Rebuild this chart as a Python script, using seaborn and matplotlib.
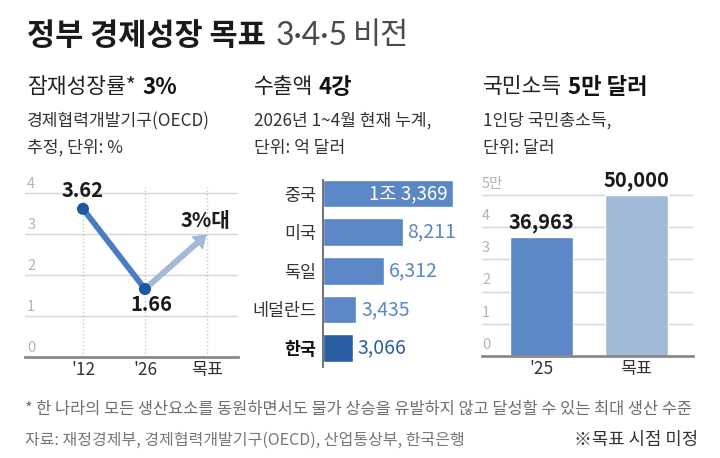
import matplotlib
matplotlib.use('Agg')
import matplotlib.pyplot as plt
import seaborn as sns
import pandas as pd

# ---- data ----
growth_labels = ["'12", "'26", "목표"]
growth_values = [3.62, 1.66]
growth_target = 3.0
growth_texts = ["3.62", "1.66", "3%대"]
growth_ticks = [0, 1, 2, 3, 4]

export_countries = ["중국", "미국", "독일", "네덜란드", "한국"]
export_values = [13369, 8211, 6312, 3435, 3066]
export_texts = ["1조 3,369", "8,211", "6,312", "3,435", "3,066"]

income_labels = ["'25", "목표"]
income_values = [36963, 50000]
income_texts = ["36,963", "50,000"]
income_ticks = [0, 10000, 20000, 30000, 40000, 50000]
income_tick_labels = ["0", "1", "2", "3", "4", "5만"]

# ---- style ----
sns.set_theme(style='white')
plt.rcParams['font.family'] = ['Noto Sans CJK KR', 'DejaVu Sans']

BLUE = '#5b87c6'
DARK_BLUE = '#2a5fa5'
LIGHT_BLUE = '#a3b9d9'
GRID = '#d6d6d6'
TICK = '#b3b3b3'
BASE = '#8a8a8a'

W, H = 720, 458
fig = plt.figure(figsize=(W / 100, H / 100), dpi=100)
fig.patch.set_facecolor('white')
renderer = fig.canvas.get_renderer()


def px_axes(left, top, right, bottom):
    return fig.add_axes([left / W, 1 - bottom / H, (right - left) / W, (bottom - top) / H])


def text_run(x, y, parts):
    """Write pieces of text one after another on a line (pixel coords)."""
    for txt, gap, kw in parts:
        t = fig.text(x / W, 1 - y / H, txt, ha='left', va='center', **kw)
        x = t.get_window_extent(renderer).x1 + gap
    return x


# ---- header ----
text_run(27, 36, [("정부 경제성장 목표", 10, dict(fontsize=22, fontweight='bold', color='#1a1a1a')),
                  ("3·4·5", 5, dict(fontsize=23, fontweight='normal', color='#4a4a4a',
                                     family=['Lato', 'Noto Sans CJK KR'])),
                  ("비전", 0, dict(fontsize=22, fontweight='light', color='#4a4a4a'))])

text_run(27, 87, [("잠재성장률*", 7, dict(fontsize=15.5, color='#222222')),
                  ("3%", 0, dict(fontsize=16, fontweight='bold', color='#111111'))])
text_run(254, 87, [("수출액", 5, dict(fontsize=15.5, color='#222222')),
                   ("4강", 0, dict(fontsize=16, fontweight='bold', color='#111111'))])
text_run(483, 87, [("국민소득", 6, dict(fontsize=15.5, color='#222222')),
                   ("5만 달러", 0, dict(fontsize=16, fontweight='bold', color='#111111'))])

sub = dict(fontsize=12.3, color='#333333', ha='left', va='center')
fig.text(27 / W, 1 - 121 / H, "경제협력개발기구(OECD)", **sub)
fig.text(27 / W, 1 - 148 / H, "추정, 단위: %", **sub)
fig.text(254 / W, 1 - 121 / H, "2026년 1~4월 현재 누계,", **sub)
fig.text(254 / W, 1 - 148 / H, "단위: 억 달러", **sub)
fig.text(483 / W, 1 - 121 / H, "1인당 국민총소득,", **sub)
fig.text(483 / W, 1 - 148 / H, "단위: 달러", **sub)

# ---- panel 1: potential growth line ----
ax1 = px_axes(25, 181, 238, 357)
ax1.set_xlim(-0.935, 2.5)
ax1.set_ylim(0, 4.3)
for v in growth_ticks[1:]:
    ax1.axhline(v, color=GRID, lw=1, zorder=0)
ax1.vlines(range(len(growth_labels)), 0, 4.15, colors='#c9c9c9', linestyles=':', lw=1, zorder=0)
for v in growth_ticks:
    ax1.text(0.01, v + 0.06, str(v), transform=ax1.get_yaxis_transform(),
             fontsize=10.5, color=TICK, fontweight='light', va='bottom', ha='left')

df_growth = pd.DataFrame({'x': [0, 1], 'y': growth_values})
sns.lineplot(data=df_growth, x='x', y='y', ax=ax1, color='#4a7cc1', lw=4.2, zorder=3)
ax1.annotate('', xy=(2, growth_target), xytext=(1, growth_values[1]),
             arrowprops=dict(arrowstyle='simple,head_length=0.8,head_width=1.05,tail_width=0.36',
                             fc=LIGHT_BLUE, ec='none', mutation_scale=12, shrinkA=0, shrinkB=0),
             zorder=2)
sns.scatterplot(data=df_growth, x='x', y='y', ax=ax1, color='#1d57a0', s=75,
                edgecolor='none', zorder=5)

ax1.text(0, 4.06, growth_texts[0], ha='center', va='center', fontsize=14.5,
         fontweight='bold', color='#1a1a1a')
ax1.text(1.1, 1.29, growth_texts[1], ha='center', va='center', fontsize=14.5,
         fontweight='bold', color='#1a1a1a')
ax1.text(1.97, 3.34, growth_texts[2], ha='center', va='center', fontsize=14.5,
         fontweight='bold', color='#1a1a1a')

ax1.set_xticks(range(len(growth_labels)))
ax1.set_xticklabels(growth_labels, fontsize=12.5, color='#333333')
ax1.set_yticks([])
ax1.tick_params(axis='x', length=0, pad=3)
ax1.set_xlabel('')
ax1.set_ylabel('')
sns.despine(ax=ax1, left=True)
ax1.spines['bottom'].set_color(BASE)
ax1.spines['bottom'].set_linewidth(2)

# ---- panel 2: exports bar ----
ax2 = px_axes(323, 180, 470, 367)
df_export = pd.DataFrame({'country': export_countries, 'value': export_values})
sns.barplot(data=df_export, y='country', x='value', hue='country',
            palette=[BLUE] * 4 + [DARK_BLUE], orient='h', width=0.72,
            ax=ax2, legend=False, saturation=1)
ax2.set_xlim(0, 15120)
ax2.set_ylim(4.49, -0.35)
for i, (v, t) in enumerate(zip(export_values, export_texts)):
    if i == 0:
        ax2.text(v - 520, i, t, ha='right', va='center', fontsize=13.5, color='white')
    else:
        ax2.text(v + 480, i, t, ha='left', va='center', fontsize=14,
                 color=DARK_BLUE if export_countries[i] == "한국" else BLUE)
ax2.set_xticks([])
ax2.tick_params(axis='y', length=0, pad=5, labelsize=12.5, labelcolor='#333333')
for lab in ax2.get_yticklabels():
    if lab.get_text() == "한국":
        lab.set_fontweight('bold')
        lab.set_color('#111111')
ax2.set_xlabel('')
ax2.set_ylabel('')
sns.despine(ax=ax2, bottom=True)
ax2.spines['left'].set_color('#666666')
ax2.spines['left'].set_linewidth(1.3)

# ---- panel 3: income bar ----
ax3 = px_axes(482, 175, 693, 356)
for v in income_ticks[1:]:
    ax3.axhline(v, color=GRID, lw=1, zorder=0)
sns.barplot(x=income_labels, y=income_values, hue=income_labels,
            palette=[BLUE, LIGHT_BLUE], width=0.67, ax=ax3, legend=False,
            saturation=1, zorder=2)
ax3.set_xlim(-0.63, 1.60)
ax3.set_ylim(0, 56200)
for v, lab in zip(income_ticks, income_tick_labels):
    ax3.text(0.0, v + 1300, lab, transform=ax3.get_yaxis_transform(),
             fontsize=10.5, color=TICK, fontweight='light', va='bottom', ha='left')
for i, (v, t) in enumerate(zip(income_values, income_texts)):
    ax3.annotate(t, xy=(i, v), xytext=(0, 3), textcoords='offset points',
                 ha='center', va='bottom', fontsize=14.5, fontweight='bold', color='#1a1a1a')
ax3.set_yticks([])
ax3.tick_params(axis='x', length=0, pad=3, labelsize=12.5, labelcolor='#333333')
ax3.set_xlabel('')
ax3.set_ylabel('')
sns.despine(ax=ax3, left=True)
ax3.spines['bottom'].set_color(BASE)
ax3.spines['bottom'].set_linewidth(2)

# ---- footer ----
fig.text(25 / W, 1 - 409 / H,
         "* 한 나라의 모든 생산요소를 동원하면서도 물가 상승을 유발하지 않고 달성할 수 있는 최대 생산 수준",
         fontsize=11.8, color='#6e6e6e', ha='left', va='center')
fig.text(25 / W, 1 - 440 / H, "자료: 재정경제부, 경제협력개발기구(OECD), 산업통상부, 한국은행",
         fontsize=11.5, color='#777777', ha='left', va='center')
fig.text(698 / W, 1 - 440 / H, "※목표 시점 미정",
         fontsize=12.8, color='#333333', ha='right', va='center')

fig.savefig('out.png', dpi=100)
